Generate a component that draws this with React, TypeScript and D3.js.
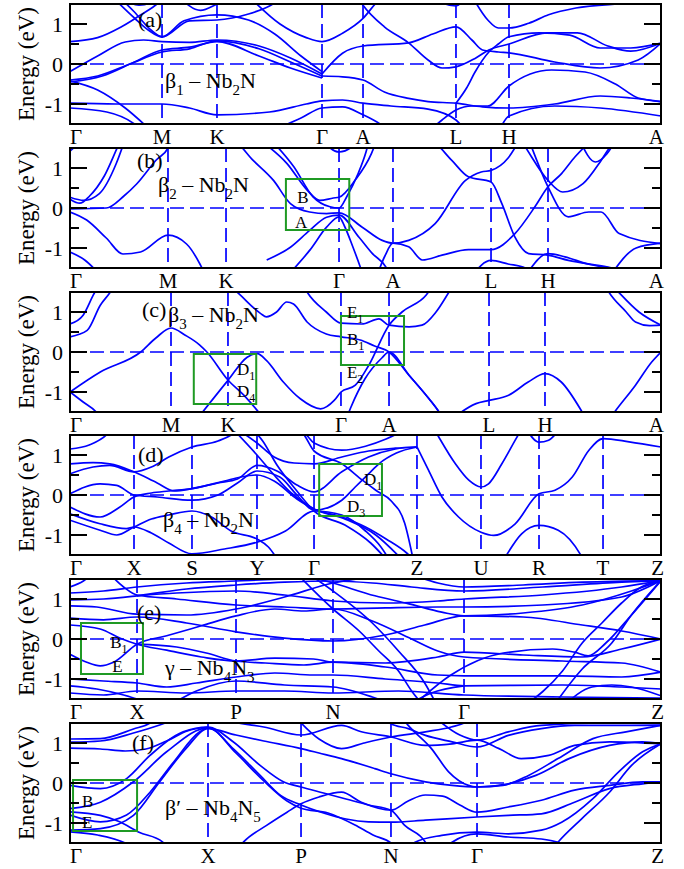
import React from "react";
import * as d3 from "d3";

type Pt = [number, number];
type Part = [string, boolean];

const W = 684;
const H = 869;
const X0 = 70;
const X1 = 661;
const PANEL_H = 120;
const E_MIN = -1.5;
const E_MAX = 1.5;
const BAND_COLOR = "#0000ff";
const BOX_COLOR = "#1f9a24";
const FONT = "'Liberation Serif', 'Times New Roman', Times, serif";

// ---- (a) beta1-Nb2N ----
const kPathA = [0, 0.1557, 0.2487, 0.4264, 0.4958, 0.6531, 0.7428, 1];
const kLabelsA = ["Γ", "M", "K", "Γ", "A", "L", "H", "A"];
const bandsA: Pt[][] = [
  [[0, 0.56], [0.3, 0.66], [0.55, 0.92], [0.75, 1.2], [0.9, 1.42], [1.05, 1.65]],
  [[0.45, 1.7], [0.7, 1.15], [0.85, 0.85], [1, 0.68], [1.4, 1.08], [2, 1.23], [2.3, 1.1], [2.55, 0.75], [2.8, 0.2], [3, -0.19]],
  [[0.5, 1.75], [0.7, 1.3], [0.88, 0.85], [1, 0.68], [1.5, 1.08], [2, 1.1], [2.3, 1.25], [2.5, 1.45], [2.65, 1.7]],
  [[0.55, 1.65], [0.75, 1.47], [0.9, 1.55], [1, 1.7]],
  [[1.3, 1.7], [1.7, 1.34], [2, 1.5], [2.15, 1.7]],
  [[0, -0.19], [0.3, 0.2], [0.6, 0.55], [0.8, 0.6], [1, 0.56], [1.5, 0.54], [2, 0.6], [2.4, 0.45], [2.7, 0.15], [3, -0.25]],
  [[0, -0.4], [0.3, -0.3], [0.65, 0.0], [1, 0.3], [1.5, 0.38], [2, 0.58], [2.4, 0.38], [2.7, 0.05], [3, -0.3]],
  [[0, -0.45], [0.35, -0.3], [0.7, 0.05], [1, 0.35], [1.5, 0.42], [2, 0.56], [2.4, 0.2], [2.7, -0.1], [3, -0.35]],
  [[0, -0.42], [0.3, -0.65], [0.6, -1.1], [0.85, -1.6]],
  [[0, -0.98], [0.5, -1.0], [1, -1.0], [1.5, -1.1], [2, -1.27], [2.5, -1.2], [2.85, -1.0], [3, -0.92], [3.5, -0.9], [4, -0.98], [4.3, -1.05], [4.7, -1.13], [5, -1.4], [5.2, -1.7]],
  [[0, -1.1], [0.4, -1.2], [0.7, -1.5], [0.8, -1.7]],
  [[2.5, -1.7], [2.8, -1.35], [3, -1.1], [3.5, -1.07], [4, -1.27], [4.15, -1.45], [4.3, -1.7]],
  [[3, -0.3], [3.5, -0.32], [4, -0.4], [4.23, -0.7], [4.49, -0.86], [4.7, -0.94], [5, -0.98], [5.5, -1.07], [6, -1.1], [6.3, -1.0], [6.6, -0.8], [6.8, -0.85], [7, -0.94]],
  [[4.7, -1.7], [4.85, -1.4], [5, -1.15], [5.3, -1.05], [5.6, -1.05], [6, -0.55], [6.28, -0.15], [6.5, -0.2], [6.7, -0.5], [6.85, -0.85], [7, -0.94]],
  [[5.8, -1.7], [6, -1.3], [6.3, -1.05], [6.6, -1.1], [7, -1.3]],
  [[3, -0.25], [3.5, 0.27], [4, 0.45], [4.49, 0.53], [4.75, 0.75], [5, 0.93], [5.3, 0.6], [5.5, 0.35], [5.8, 0.3], [6, 0.28], [6.3, 0.05], [6.6, -0.1], [6.85, 0.1], [7, 0.52]],
  [[3.85, 1.7], [4, 1.47], [4.23, 0.93], [4.49, 0.53], [4.7, 0.1], [4.85, -0.1], [5, -0.07], [5.36, 0.14], [5.62, 0.35], [6, 0.5], [6.25, 0.78], [6.45, 0.78], [6.65, 0.45], [6.8, 0.32], [7, 0.52]],
  [[2.3, 1.7], [2.6, 1.0], [2.85, 0.66], [3, 0.56], [3.5, 0.77], [4, 1.14], [4.15, 1.55], [4.22, 1.7]],
  [[5.3, 1.7], [5.6, 1.1], [5.8, 0.9], [6, 0.9], [6.13, 1.02], [6.26, 1.23], [6.44, 1.4], [6.72, 1.5], [7, 1.55]],
  [[4.7, 1.7], [5, 1.45], [5.2, 1.7]],
  [[5, -0.98], [5.2, -0.6], [5.36, -0.2], [5.62, 0.3], [5.8, 0.5], [6, 0.68], [6.2, 0.78], [6.4, 0.72], [6.6, 0.4], [6.8, 0.4], [7, 0.52]],
];
const titleA: Part[] = [["β", false], ["1", true], [" – Nb", false], ["2", true], ["N", false]];

// ---- (b) beta2-Nb2N ----
const kPathB = [0, 0.1658, 0.264, 0.4552, 0.5465, 0.7124, 0.8088, 1];
const kLabelsB = ["Γ", "M", "K", "Γ", "A", "L", "H", "A"];
const bandsB: Pt[][] = [
  [[0, 0.27], [0.14, 0.19], [0.3, 0.36], [0.47, 1.1], [0.56, 1.7]],
  [[0, 0.22], [0.1, 0.12], [0.2, 0.3], [0.35, 0.8], [0.5, 1.6], [0.53, 1.75]],
  [[0, 1.42], [0.08, 1.6], [0.14, 1.75]],
  [[0, -0.02], [0.37, 0.0], [0.55, 0.3], [0.68, 0.6], [0.88, 1.2], [1, 1.5], [1.06, 1.7]],
  [[0, -0.1], [0.17, -0.3], [0.37, -0.75], [0.54, -1.15], [0.72, -1.1], [1, -0.68], [1.32, -0.9], [1.55, -1.4], [1.65, -1.7]],
  [[0, -1.1], [0.15, -1.3], [0.3, -1.65]],
  [[2.0, 1.75], [2.07, 1.69], [2.24, 1.19], [2.42, 0.69], [2.57, 0.11], [2.74, -0.1], [2.89, -0.14], [3, -0.12], [3.43, -0.48], [3.8, -0.81], [4, -0.88], [4.16, -0.81], [4.43, -0.39], [4.74, 0.69], [4.9, 0.9], [5, 0.94], [5.3, 1.25], [5.5, 1.7]],
  [[2.3, 1.7], [2.54, 1.11], [2.72, 0.44], [2.83, 0.19], [2.95, 0.25], [3, 0.27], [3.3, 0.7], [3.6, 1.36], [3.7, 1.7]],
  [[2.4, 1.7], [2.6, 1.03], [2.77, 0.28], [2.92, 0.03], [3, 0.0], [3.15, 0.3], [3.35, 0.85], [3.5, 1.4], [3.56, 1.7]],
  [[2.36, -1.3], [2.57, -0.98], [2.74, -0.56], [2.89, -0.23], [3, -0.18], [3.37, -0.73], [3.62, -1.14], [3.87, -1.48], [3.95, -1.7]],
  [[2.6, -1.52], [2.74, -1.06], [2.89, -0.48], [3, -0.22], [3.1, -0.45], [3.25, -0.95], [3.4, -1.5], [3.45, -1.7]],
  [[2.85, 1.7], [3, 1.4], [3.3, 1.6], [3.4, 1.75]],
  [[3.7, -1.7], [3.85, -1.2], [4, -0.88], [4.16, -0.97], [4.3, -1.3], [4.5, -1.18], [4.77, -1.04], [5, -1.04], [5.42, -0.64], [5.77, 0.03], [6, 0.53], [6.12, 0.86], [6.24, 1.28], [6.39, 1.69], [6.42, 1.75]],
  [[4.35, 1.75], [4.4, 1.69], [4.6, 1.19], [4.77, 0.78], [5, 0.65], [5.19, 0.11], [5.42, -0.73], [5.66, -1.14], [6, -1.18], [6.18, -1.31], [6.53, -1.48], [6.7, -1.6]],
  [[5.5, 1.75], [5.6, 1.53], [6, 0.69], [6.13, 0.4], [6.31, 0.61], [6.47, 1.19], [6.55, 1.53], [6.6, 1.7]],
  [[5.65, 1.75], [5.71, 1.53], [6, 0.53], [6.18, -0.22], [6.36, -0.1], [6.47, -0.1], [6.63, -0.64], [7, -0.89]],
  [[6.28, 1.7], [6.42, 1.15], [6.52, 1.35], [6.6, 1.7]],
  [[4.8, -1.7], [5, -1.31], [5.3, -1.4], [5.6, -1.5], [5.75, -1.7]],
  [[5.65, -1.6], [6, -1.14], [6.15, -1.22], [6.35, -1.4], [6.55, -1.5], [6.7, -1.6]],
  [[6.55, -1.7], [6.78, -1.0], [7, -0.88]],
];
const titleB: Part[] = [["β", false], ["2", true], [" – Nb", false], ["2", true], ["N", false]];
const boxB = [[2.53, 3.19, -0.55, 0.725]];
const boxTextB: [string, string, number, number][] = [["B", "", 2.63, 0.125], ["A", "", 2.61, -0.5]];

// ---- (c) beta3-Nb2N ----
const kPathC = [0, 0.1709, 0.2673, 0.4585, 0.5398, 0.709, 0.8037, 1];
const kLabelsC = ["Γ", "M", "K", "Γ", "A", "L", "H", "A"];
const bandsC: Pt[][] = [
  [[0, 0.7], [0.13, 0.92], [0.23, 1.42], [0.3, 1.75]],
  [[0, 0.38], [0.17, 0.54], [0.3, 1.17], [0.4, 1.5], [0.45, 1.7]],
  [[0, -1.0], [0.3, -0.5], [0.7, 0.0], [0.85, 0.35], [1, 0.6], [1.25, 0.42], [1.5, 0.18], [1.63, 0.0], [2, -0.7], [2.14, -1.08], [2.3, -1.6]],
  [[1.5, -1.6], [2, -0.71], [2.17, -0.13], [2.26, -0.04], [2.34, -0.21], [2.49, -0.75], [2.64, -1.17], [2.82, -1.42], [2.94, -1.21], [3, -1.0], [3.3, -0.83], [3.58, -0.33], [4, 0.67], [4.13, 1.0], [4.37, 1.42], [4.45, 1.7]],
  [[0, -1.0], [0.13, -1.25], [0.26, -1.5], [0.32, -1.7]],
  [[1.97, 1.75], [2.11, 1.42], [2.29, 0.96], [2.34, 0.88], [2.43, 1.0], [2.52, 1.25], [2.58, 1.2], [2.7, 0.75], [2.87, 0.45], [3, 0.38], [3.4, 0.3], [3.7, 0.15], [4, 0.0], [4.2, -0.58], [4.4, -1.17], [4.5, -1.5], [4.55, -1.7]],
  [[2.65, 1.75], [2.7, 1.5], [2.87, 1.0], [3, 0.72], [3.43, 0.7], [3.79, 0.83], [4, 0.67], [4.2, 0.63], [4.33, 0.67], [4.47, 1.0], [4.6, 1.5], [4.65, 1.7]],
  [[3.1, -1.7], [3.2, -1.4], [3.5, -0.67], [3.85, -0.15], [4, 0.0], [4.2, -0.58], [4.4, -1.17], [4.5, -1.5], [4.55, -1.7]],
  [[4.62, -1.7], [4.67, -1.6], [4.87, -1.29], [5, -1.21], [5.35, -1.08], [5.7, -0.75], [6, -0.54], [6.14, -0.75], [6.32, -1.5], [6.36, -1.7]],
  [[6.5, 1.75], [6.55, 1.5], [6.7, 1.0], [6.78, 0.75], [6.9, 0.66], [7, 0.67]],
  [[6.55, 1.75], [6.6, 1.6], [6.81, 1.0], [7, 0.67]],
  [[6.55, -1.7], [6.6, -1.5], [6.78, -0.83], [6.92, -0.25], [7, 0.0]],
];
const titleC: Part[] = [["β", false], ["3", true], [" – Nb", false], ["2", true], ["N", false]];
const boxC = [[1.4, 2.25, -1.3, -0.05], [3, 4.15, -0.325, 0.9]];
const boxTextC: [string, string, number, number][] = [
  ["D", "1", 2.08, -0.575], ["D", "4", 2.08, -1.125],
  ["E", "1", 3.125, 0.85], ["B", "1", 3.125, 0.175], ["E", "2", 3.125, -0.65],
];

// ---- (d) beta4-Nb2N ----
const kPathD = [0, 0.1083, 0.2064, 0.3164, 0.4129, 0.5871, 0.6954, 0.7936, 0.9019, 1];
const kLabelsD = ["Γ", "X", "S", "Y", "Γ", "Z", "U", "R", "T", "Z"];
const bandsD: Pt[][] = [
  [[0, 0.78], [0.36, 0.81], [0.62, 0.78], [1, 0.58], [1.4, 0.3], [1.7, 0.1], [2, 0.16], [2.4, 0.3], [2.7, 0.4], [3, 0.74], [3.35, 0.6], [3.7, 0.25], [4, 0.08], [4.27, 0.58], [4.53, 0.95], [4.79, 1.15], [5, 1.2]],
  [[0, 0.53], [0.36, 0.7], [0.62, 0.74], [1, 0.58], [1.3, 0.7], [1.6, 0.95], [2, 1.2], [2.4, 1.35], [2.7, 1.6], [2.8, 1.75]],
  [[0, 0.03], [0.47, 0.28], [0.73, 0.24], [1, 0.0], [1.4, -0.05], [2, -0.13], [2.4, 0.0], [2.7, 0.3], [3, 0.6], [3.4, 0.45], [3.7, 0.0], [4, -0.38], [4.27, -0.13], [4.4, 0.2], [4.53, 0.53], [4.63, 0.78], [4.8, 1.05], [5, 1.2]],
  [[0, -0.3], [0.47, -0.55], [0.78, -0.3], [1, -0.05], [1.3, 0.05], [1.6, 0.1], [2, 0.16], [2.5, 0.35], [2.75, 0.45], [3, 0.5], [3.3, 0.35], [3.7, -0.1], [4, -0.35], [4.27, -0.55], [4.5, -0.8], [4.7, -1.1], [4.9, -1.45], [5, -1.7]],
  [[0, -0.47], [0.47, -0.72], [0.88, -0.84], [1, -0.8], [1.3, -0.95], [1.6, -1.2], [2, -1.47], [2.5, -1.35], [3, -1.18], [3.5, -0.9], [4, -0.4], [4.27, -0.5], [4.5, -0.9], [4.65, -1.3], [4.75, -1.7]],
  [[0, -0.63], [0.47, -0.88], [0.73, -1.0], [1, -0.8], [1.3, -0.6], [1.6, -0.5], [2, -0.4], [2.3, -0.55], [2.6, -0.9], [3, -1.1], [3.2, -1.3], [3.4, -1.7]],
  [[2.6, 1.75], [3, 1.3], [3.3, 0.95], [3.65, 0.8], [4, 0.78], [4.27, 0.95], [4.53, 1.1], [4.79, 1.17], [5, 1.2]],
  [[2.6, 1.7], [3, 1.0], [3.3, 0.5], [3.6, 0.05], [4, -0.35], [4.3, -0.6], [4.6, -1.0], [4.85, -1.6]],
  [[2.9, 1.7], [3.1, 1.35], [3.35, 0.75], [3.7, 0.1], [4, -0.4], [4.3, -0.75], [4.55, -1.2], [4.7, -1.6]],
  [[3.7, 1.75], [3.85, 1.45], [4, 1.1], [4.27, 0.78], [4.47, 0.37], [4.6, 0.12], [4.75, -0.15], [4.88, -0.7], [4.97, -1.7]],
  [[5, 1.2], [5.18, 0.62], [5.39, -0.05], [5.65, -0.55], [6, -0.93], [6.22, -1.01], [6.59, -0.72], [7, 0.03], [7.25, 0.12], [7.52, 0.45], [7.78, 1.12], [8, 1.41], [8.45, 1.33], [9, 1.2]],
  [[5.25, 1.7], [5.34, 1.45], [5.6, 0.78], [5.81, 0.37], [6, 0.2], [6.13, 0.28], [6.36, 0.78], [6.59, 1.37], [6.7, 1.65]],
  [[6.8, 1.6], [7, 1.32], [7.15, 1.37], [7.3, 1.6]],
  [[6.4, -1.6], [6.7, -0.97], [7, -0.76], [7.3, -0.88], [7.67, -1.55], [7.72, -1.7]],
  [[0, 1.15], [0.3, 1.25], [0.6, 1.55], [0.7, 1.75]],
  [[3.75, 1.75], [3.9, 1.45], [4, 1.3], [4.27, 1.12], [4.5, 1.22], [4.7, 1.4], [4.9, 1.65]],
];
const titleD: Part[] = [["β", false], ["4", true], [" – Nb", false], ["2", true], ["N", false]];
const boxD = [[4.05, 4.66, -0.525, 0.775]];
const boxTextD: [string, string, number, number][] = [["D", "1", 4.485, 0.25], ["D", "3", 4.32, -0.425]];

// ---- (e) gamma-Nb4N3 ----
const kPathE = [0, 0.1134, 0.2809, 0.445, 0.6667, 1];
const kLabelsE = ["Γ", "X", "P", "N", "Γ", "Z"];
const bandsE: Pt[][] = [
  [[0, 0.98], [0.5, 1.0], [1, 1.08], [1.5, 1.25], [2, 1.35], [2.5, 1.42], [3, 1.45], [3.3, 1.4], [3.6, 1.3], [4, 1.2], [4.4, 1.3], [4.8, 1.42], [5, 1.46]],
  [[0, 1.3], [0.2, 1.45], [0.35, 1.65]],
  [[0.55, 1.7], [0.8, 1.3], [1, 1.1], [1.4, 1.0], [2, 0.85], [2.5, 0.8], [3, 0.75], [3.4, 0.78], [3.8, 0.8], [4, 0.8], [4.4, 0.85], [4.8, 1.05], [5, 1.46]],
  [[0, 0.83], [0.4, 0.8], [1, 0.62], [1.5, 0.6], [2, 0.75], [2.5, 1.05], [3, 1.4], [3.3, 1.55]],
  [[0, 0.52], [0.5, 0.48], [1, 0.55], [1.5, 0.4], [2, 0.18], [2.5, 0.02], [3, -0.05], [3.4, 0.1], [3.7, 0.35], [4, 0.58], [4.3, 0.55], [4.6, 0.35], [4.8, 0.2], [5, 0.0]],
  [[0, 0.35], [0.45, 0.25], [0.75, 0.02], [1, -0.13], [1.3, -0.28], [1.65, -0.45], [2, -0.55], [2.4, -0.48], [2.8, -0.5], [3, -0.58], [3.4, -0.6], [3.8, -0.45], [4, -0.33], [4.3, -0.4], [4.6, -0.45], [4.8, -0.25], [5, 0.0]],
  [[0, -0.38], [0.25, -0.58], [0.45, -0.67], [0.65, -0.58], [1, -0.13], [1.3, 0.08], [1.65, 0.33], [2, 0.58], [2.4, 0.75], [2.7, 0.7], [3, 0.75], [3.3, 0.45], [3.6, 0.0], [3.8, -0.3], [4, -0.45], [4.5, -0.55], [4.8, -0.6], [5, -0.83]],
  [[1, -0.13], [1.4, -0.2], [1.7, -0.35], [2, -0.55], [2.3, -0.6], [2.7, -0.65], [3, -0.58], [3.4, -0.7], [3.8, -0.9], [4, -0.92], [4.5, -0.92], [4.8, -0.95], [5, -0.83]],
  [[0, -1.0], [0.5, -1.05], [1, -1.1], [1.3, -1.2], [1.6, -1.1], [2, -0.95], [2.4, -0.85], [2.8, -0.9], [3, -0.9], [3.4, -1.0], [3.8, -1.1], [4, -1.17], [4.5, -1.15], [4.8, -1.2], [5, -1.25]],
  [[0, -1.17], [0.4, -1.25], [0.8, -1.4], [1, -1.5], [1.2, -1.7]],
  [[1.3, -1.7], [1.6, -1.3], [2, -1.05], [2.5, -1.15], [3, -1.2], [3.3, -1.45], [3.5, -1.7]],
  [[2.6, 1.7], [3, 0.75], [3.2, 0.2], [3.35, -0.3], [3.5, -0.8], [3.6, -1.3], [3.7, -1.7]],
  [[2.7, 1.7], [3, 1.2], [3.3, 0.4], [3.5, -0.3], [3.7, -1.1], [3.8, -1.7]],
  [[4.3, -1.7], [4.5, -0.8], [4.6, -0.1], [4.7, 0.4], [4.8, 0.9], [4.9, 1.3], [5, 1.46]],
  [[4.45, -1.7], [4.6, -0.75], [4.75, -0.1], [4.85, 0.6], [5, 1.46]],
  [[3.6, -1.7], [3.9, -0.9], [4.2, -0.35], [4.45, -0.25], [4.56, -0.33], [4.63, -0.42], [4.72, -0.1], [4.85, 0.6], [5, 1.46]],
  [[4.5, -1.7], [4.65, -1.2], [4.75, -1.15], [4.85, -1.2], [5, -1.42]],
  [[3.5, 1.75], [3.8, 1.4], [4, 1.3], [4.3, 1.35], [4.6, 1.42], [5, 1.46]],
  [[0, 1.15], [0.5, 1.2], [1, 1.3], [1.5, 1.4], [2, 1.45], [2.5, 1.5], [3, 1.55], [3.2, 1.7]],
  [[1, 1.08], [1.4, 1.15], [2, 1.2], [2.5, 1.1], [3, 0.95], [3.4, 0.9], [3.8, 0.95], [4, 1.0], [4.4, 1.1], [4.8, 1.3], [5, 1.46]],
  [[0, -1.35], [0.5, -1.4], [1, -1.3], [1.5, -1.35], [2, -1.3], [2.5, -1.3], [3, -1.35], [3.5, -1.3], [4, -1.4], [4.5, -1.45], [5, -1.48]],
  [[2.7, 1.6], [3, 1.4], [3.32, 1.08], [3.58, 0.88], [3.83, 0.67], [4, 0.58], [4.3, 0.65], [4.6, 0.85], [4.85, 1.2], [5, 1.46]],
  [[3.55, -1.7], [3.75, -1.35], [4, -1.17]],
];
const titleE: Part[] = [["γ", false], [" – Nb", false], ["4", true], ["N", false], ["3", true]];
const boxE = [[0.164, 1.06, -0.875, 0.4]];
const boxTextE: [string, string, number, number][] = [["B", "1", 0.6, -0.225], ["E", "", 0.63, -0.825]];

// ---- (f) beta'-Nb4N5 ----
const kPathF = [0, 0.2335, 0.3909, 0.5431, 0.6887, 1];
const kLabelsF = ["Γ", "X", "P", "N", "Γ", "Z"];
const bandsF: Pt[][] = [
  [[0, 1.1], [0.22, 1.11], [0.46, 1.35], [0.58, 1.5], [0.65, 1.7]],
  [[0, 1.02], [0.22, 1.05], [0.46, 1.25], [0.65, 1.45], [0.8, 1.65]],
  [[0, 0.87], [0.22, 0.85], [0.4, 0.8], [0.55, 0.85], [0.7, 1.05], [0.85, 1.3], [1, 1.4]],
  [[0, -0.06], [0.22, -0.14], [0.41, 0.11], [0.58, 0.69], [0.82, 1.28], [1, 1.4], [1.27, 1.03], [1.56, 0.44], [1.81, 0.03], [2, -0.1], [2.25, -0.25], [2.5, -0.4], [2.75, -0.55], [3, -0.68], [3.16, -1.06], [3.4, -1.48], [3.45, -1.7]],
  [[0, -0.64], [0.22, -0.48], [0.46, 0.03], [0.7, 0.78], [1, 1.38], [1.27, 0.86], [1.56, 0.19], [1.78, -0.31], [2, -0.55], [2.25, -0.75], [2.5, -0.9], [2.75, -0.97], [3, -0.98], [3.4, -0.93], [4, -0.85], [4.17, -0.81], [4.35, -0.77], [4.53, -0.48], [4.72, -0.14], [4.9, -0.02], [5, 0.03]],
  [[0, -0.8], [0.22, -0.97], [0.41, -0.8], [0.58, -0.23], [0.75, 0.52], [0.94, 1.28], [1, 1.38], [1.3, 0.75], [1.6, 0.05], [1.85, -0.45], [2, -0.63], [2.3, -0.75], [2.6, -1.05], [2.8, -1.3], [3, -1.5], [3.1, -1.7]],
  [[0, -1.18], [0.22, -1.14], [0.46, -0.81], [0.65, 0.03], [0.84, 0.86], [1, 1.36], [1.3, 1.2], [1.6, 1.05], [2, 0.86], [2.2, 0.75], [2.45, 0.61], [2.82, 0.36], [3, 0.23], [3.4, 0.03], [3.71, -0.06], [4, -0.1], [4.14, -0.06], [4.28, 0.19], [4.44, 0.61], [4.63, 1.11], [4.81, 1.28], [5, 1.44]],
  [[0, -0.72], [0.22, -0.81], [0.36, -0.97], [0.5, -1.23], [0.67, -1.47], [0.72, -1.7]],
  [[0, -1.22], [0.2, -1.3], [0.4, -1.5], [0.5, -1.7]],
  [[1.3, -1.7], [1.38, -1.48], [1.63, -1.06], [1.85, -0.73], [2, -0.52], [2.2, -0.35], [2.45, -0.23], [2.67, -0.48], [3, -0.68], [3.2, -0.45], [3.4, -0.3], [3.6, -0.33], [3.8, -0.55], [4, -0.73], [4.17, -0.6], [4.35, -0.43], [4.53, -0.18], [4.72, -0.06], [4.9, 0.03], [5, 0.03]],
  [[0.95, 1.7], [1.2, 1.55], [1.6, 1.4], [2, 1.2], [2.45, 1.44], [2.67, 1.28], [3, 1.15], [3.4, 0.94], [3.71, 0.98], [4, 1.07], [4.12, 0.86], [4.24, 0.61], [4.39, 0.69], [4.53, 0.94], [4.72, 1.03], [5, 0.98]],
  [[2.9, 1.7], [3, 1.48], [3.2, 1.36], [3.4, 1.19], [3.71, 1.03], [4, 0.9], [4.17, 1.19], [4.35, 1.36], [4.53, 1.44], [5, 1.44]],
  [[3.1, 1.7], [3.2, 1.44], [3.47, 0.86], [3.67, 0.28], [3.9, -0.06], [4, -0.1], [4.17, -0.02], [4.32, 0.19], [4.5, 0.61], [4.72, 0.94], [4.9, 1.03], [5, 0.98]],
  [[3.45, 1.75], [3.8, 1.2], [4, 1.07], [4.17, 1.28], [4.35, 1.44], [4.7, 1.5], [5, 1.48]],
  [[3.2, -1.7], [3.28, -1.48], [3.59, -1.31], [4, -1.23], [4.17, -1.27], [4.35, -1.18], [4.46, -0.98], [4.63, -0.39], [4.77, 0.28], [4.9, 0.78], [5, 0.98]],
  [[4.4, -1.7], [4.44, -1.48], [4.57, -0.89], [4.72, -0.23], [4.84, 0.44], [5, 0.98]],
  [[3.65, -1.7], [3.71, -1.48], [4, -1.27], [4.17, -1.35], [4.35, -1.4], [4.5, -1.55], [4.6, -1.7]],
  [[1.9, 1.75], [2.2, 1.1], [2.45, 0.86], [2.7, 1.0], [3, 1.15], [3.4, 1.28], [3.7, 1.4], [3.9, 1.55], [4, 1.7]],
];
const titleF: Part[] = [["β′", false], [" – Nb", false], ["4", true], ["N", false], ["5", true]];
const boxF = [[0.022, 0.486, -1.2, 0.075]];
const boxTextF: [string, string, number, number][] = [["B", "", 0.087, -0.6], ["E", "", 0.087, -1.125]];

const yTicksMajor = [-1, 0, 1];
const yTicksMinor = [-0.5, 0.5];
const yTickLabels = ["-1", "0", "1"];

type PanelCfg = {
  id: string;
  top: number;
  kPath: number[];
  kLabels: string[];
  bands: Pt[][];
  tag: string;
  tagPos: [number, number];
  title: Part[];
  titlePos: [number, number];
  boxes: number[][];
  boxText: [string, string, number, number][];
};

const panels: PanelCfg[] = [
  { id: "a", top: 4, kPath: kPathA, kLabels: kLabelsA, bands: bandsA, tag: "(a)", tagPos: [138, 23], title: titleA, titlePos: [165, 84], boxes: [], boxText: [] },
  { id: "b", top: 148, kPath: kPathB, kLabels: kLabelsB, bands: bandsB, tag: "(b)", tagPos: [137, 20], title: titleB, titlePos: [158, 44], boxes: boxB, boxText: boxTextB },
  { id: "c", top: 292, kPath: kPathC, kLabels: kLabelsC, bands: bandsC, tag: "(c)", tagPos: [142, 25], title: titleC, titlePos: [168, 30], boxes: boxC, boxText: boxTextC },
  { id: "d", top: 435, kPath: kPathD, kLabels: kLabelsD, bands: bandsD, tag: "(d)", tagPos: [138, 27], title: titleD, titlePos: [163, 92], boxes: boxD, boxText: boxTextD },
  { id: "e", top: 579, kPath: kPathE, kLabels: kLabelsE, bands: bandsE, tag: "(e)", tagPos: [137, 41], title: titleE, titlePos: [165, 96], boxes: boxE, boxText: boxTextE },
  { id: "f", top: 723, kPath: kPathF, kLabels: kLabelsF, bands: bandsF, tag: "(f)", tagPos: [132, 27], title: titleF, titlePos: [165, 92], boxes: boxF, boxText: boxTextF },
];

function Rich({ x, y, parts, size, sub }: { x: number; y: number; parts: Part[]; size: number; sub: number }) {
  let prevSub = false;
  const shift = size * 0.3;
  return (
    <text x={x} y={y} fontSize={size} fill="#000">
      {parts.map(([t, s], i) => {
        let dy = 0;
        if (s && !prevSub) dy = shift;
        else if (!s && prevSub) dy = -shift;
        prevSub = s;
        return (
          <tspan key={i} dy={dy} fontSize={s ? sub : size}>
            {t}
          </tspan>
        );
      })}
    </text>
  );
}

function Panel({ p }: { p: PanelCfg }) {
  const top = p.top;
  const bottom = top + PANEL_H;
  const kOf = d3.scaleLinear().domain(p.kPath.map((_, i) => i)).range(p.kPath);
  const xk = d3.scaleLinear().domain([0, 1]).range([X0, X1]);
  const xu = (u: number) => xk(kOf(u));
  const y = d3.scaleLinear().domain([E_MIN, E_MAX]).range([bottom, top]);
  const line = d3
    .line<Pt>()
    .x((d) => xu(d[0]))
    .y((d) => y(d[1]))
    .curve(d3.curveMonotoneX);
  const clipId = `clip-${p.id}`;
  const nK = p.kPath.length;

  return (
    <g>
      <defs>
        <clipPath id={clipId}>
          <rect x={X0} y={top} width={X1 - X0} height={PANEL_H} />
        </clipPath>
      </defs>

      <g clipPath={`url(#${clipId})`}>
        {p.kPath.slice(1, -1).map((_, i) => (
          <line key={i} x1={xu(i + 1)} x2={xu(i + 1)} y1={top} y2={bottom} stroke={BAND_COLOR} strokeWidth={1.7} strokeDasharray="14,6" />
        ))}
        <line x1={X0} x2={X1} y1={y(0)} y2={y(0)} stroke={BAND_COLOR} strokeWidth={1.7} strokeDasharray="14,6" />
        {p.bands.map((b, i) => (
          <path key={i} d={line(b) || ""} fill="none" stroke={BAND_COLOR} strokeWidth={1.7} />
        ))}
      </g>

      {p.boxes.map(([u0, u1, e0, e1], i) => (
        <rect key={i} x={xu(u0)} y={y(e1)} width={xu(u1) - xu(u0)} height={y(e0) - y(e1)} fill="none" stroke={BOX_COLOR} strokeWidth={2} />
      ))}
      {p.boxText.map(([t, s, u, e], i) => (
        <Rich key={i} x={xu(u)} y={y(e)} parts={s ? [[t, false], [s, true]] : [[t, false]]} size={17} sub={12} />
      ))}

      <rect x={X0} y={top} width={X1 - X0} height={PANEL_H} fill="none" stroke="#000" strokeWidth={2} />

      {yTicksMajor.map((v) => (
        <g key={v}>
          <line x1={X0} x2={X0 + 17} y1={y(v)} y2={y(v)} stroke="#000" strokeWidth={2} />
          <line x1={X1 - 17} x2={X1} y1={y(v)} y2={y(v)} stroke="#000" strokeWidth={2} />
        </g>
      ))}
      {yTicksMinor.map((v) => (
        <g key={v}>
          <line x1={X0} x2={X0 + 9} y1={y(v)} y2={y(v)} stroke="#000" strokeWidth={2} />
          <line x1={X1 - 9} x2={X1} y1={y(v)} y2={y(v)} stroke="#000" strokeWidth={2} />
        </g>
      ))}
      {yTicksMajor.map((v, i) => (
        <text key={v} x={63} y={y(v) + 7.5} fontSize={22} textAnchor="end" fill="#000">
          {yTickLabels[i]}
        </text>
      ))}

      <text transform={`translate(34,${top + PANEL_H / 2}) rotate(-90)`} fontSize={23} textAnchor="middle" fill="#000">
        Energy (eV)
      </text>

      {p.kLabels.map((lab, i) => {
        const anchor = i === 0 ? "start" : i === nK - 1 ? "end" : "middle";
        const xx = i === 0 ? X0 : i === nK - 1 ? X1 + 3 : xu(i);
        return (
          <text key={i} x={xx} y={bottom + 20} fontSize={21} textAnchor={anchor} fill="#000">
            {lab}
          </text>
        );
      })}

      <text x={p.tagPos[0]} y={top + p.tagPos[1]} fontSize={22} fill="#000">
        {p.tag}
      </text>
      <Rich x={p.titlePos[0]} y={top + p.titlePos[1]} parts={p.title} size={22} sub={15} />
    </g>
  );
}

export default function App() {
  return (
    <svg width={W} height={H} style={{ position: "absolute", left: 0, top: 0, background: "#fff" }} fontFamily={FONT}>
      <rect width={W} height={H} fill="#fff" />
      {panels.map((p) => (
        <Panel key={p.id} p={p} />
      ))}
    </svg>
  );
}
